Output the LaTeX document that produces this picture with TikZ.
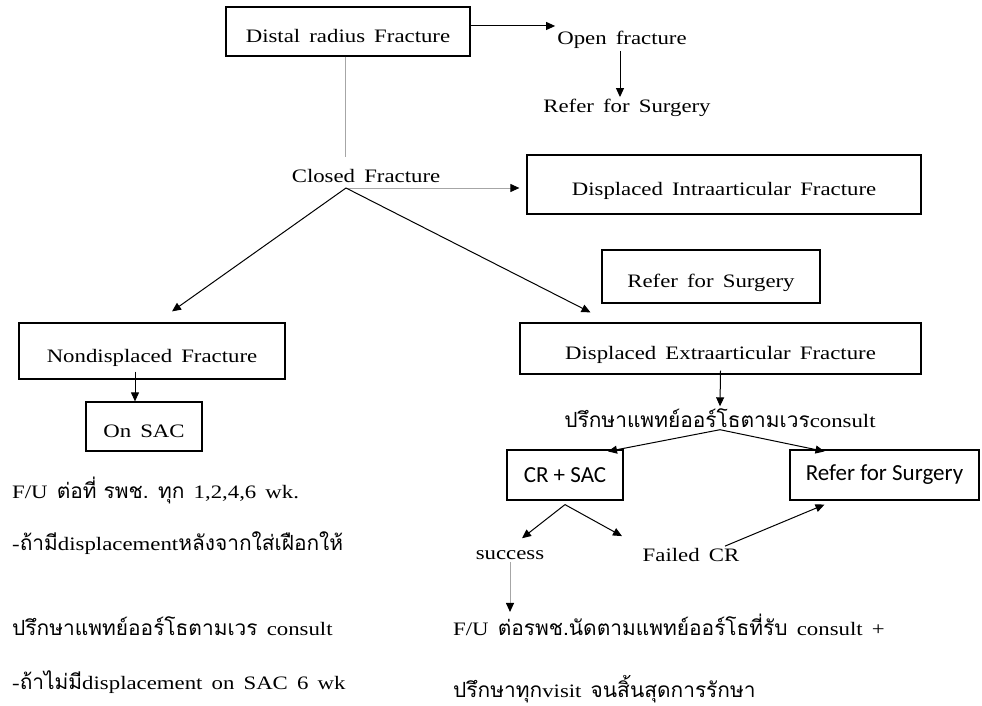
\documentclass[tikz,border=0pt]{standalone}
\usepackage{fontspec}
\setmainfont{Liberation Serif}[FakeStretch=1.2,WordSpace=1.6]
\newfontfamily\thaifont[Script=Thai,Scale=1.1]{Loma}
\newfontfamily\calib{Carlito}
\usetikzlibrary{arrows.meta}

\tikzset{
  box/.style={draw, line width=1.2pt, inner sep=0pt, text height=22pt, text depth=0pt},
  sbox/.style={draw, line width=1.2pt, inner sep=0pt, font=\calib\fontsize{23}{27}\selectfont},
  txt/.style={inner sep=2pt},
  arr/.style={line width=1pt, -{Triangle[length=9pt,width=8pt]}},
  garr/.style={line width=1pt, gray!70, -{Triangle[length=9pt,width=8pt,color=black]}},
  gline/.style={line width=1pt, gray!70}
}

\begin{document}
\begin{tikzpicture}[x=1pt,y=-1pt,every node/.style={font=\fontsize{19}{23}\selectfont}]
      \useasboundingbox (0,0) rectangle (982,706);
      \node[box, minimum width=244pt, minimum height=49pt] (dist) at (348,31.5) {Distal radius Fracture};
      \node[txt] (open) at (622,40) {Open fracture};
      \node[txt] (refera) at (627,108) {Refer for Surgery};
      \node[txt] (closed) at (366,176) {Closed Fracture};
      \coordinate (apex) at (346,188);
      \node[box, minimum width=394pt, minimum height=59pt] (intra) at (724,184.5) {Displaced Intraarticular Fracture};
      \node[box, minimum width=218pt, minimum height=53pt] (referb) at (711,276.5) {Refer for Surgery};
      \node[box, minimum width=266pt, minimum height=56pt] (nondisp) at (152,351) {Nondisplaced Fracture};
      \node[box, minimum width=116pt, minimum height=49pt] (onsac) at (144,426.5) {On SAC};
      \node[box, minimum width=401pt, minimum height=51pt] (extra) at (720.5,348.5) {Displaced Extraarticular Fracture};
      \node[txt] (consult) at (720,418) {{\thaifont ปรึกษาแพทย์ออร์โธตามเวร}consult};
      \node[sbox, minimum width=116pt, minimum height=50pt] (crsac) at (565,475) {CR + SAC};
      \node[sbox, minimum width=189pt, minimum height=50pt] (referc) at (884.5,475) {Refer for Surgery};
      \node[txt] (success) at (510,555) {success};
      \node[txt] (failed) at (691,555) {Failed CR};
      \node[txt, anchor=west] (fua) at (10,490) {F/U {\thaifont ต่อที่ รพช. ทุก} 1,2,4,6 wk.};
      \node[txt, anchor=west] (fub) at (10,543) {-{\thaifont ถ้ามี}displacement{\thaifont หลังจากใส่เฝือกให้}};
      \node[txt, anchor=west] (fuc) at (10,626) {{\thaifont ปรึกษาแพทย์ออร์โธตามเวร} consult};
      \node[txt, anchor=west] (fud) at (10,682) {-{\thaifont ถ้าไม่มี}displacement on SAC 6 wk};
      \node[txt, anchor=west] (fue) at (451,625) {F/U {\thaifont ต่อรพช.นัดตามแพทย์ออร์โธที่รับ} consult +};
      \node[txt, anchor=west] (fuf) at (451,689) {{\thaifont ปรึกษาทุก}visit {\thaifont จนสิ้นสุดการรักษา}};

      \draw[arr] ([yshift=5.5pt]dist.east) -- ([yshift=5.5pt]dist.east -| open.west);
      \draw[arr] ([xshift=-2pt]open.south) -- ([xshift=-2pt]open.south |- refera.north);
      \draw[gline] ([xshift=-3pt]dist.south) -- ([xshift=-3pt,yshift=10pt]dist.south |- closed.north);
      \draw[garr] (apex) -- ([xshift=-7pt]apex -| intra.west);
      \draw[arr] (apex) -- ([xshift=20pt,yshift=11pt]nondisp.north);
      \draw[arr] (apex) -- ([xshift=-130pt,yshift=10pt]extra.north);
      \draw[arr] ([xshift=-17pt,yshift=8pt]nondisp.south) -- ([xshift=-9pt]onsac.north);
      \draw[arr] ([yshift=4pt]extra.south) -- (consult.north);
      \draw[arr] (consult.south) -- ([xshift=43pt,yshift=-2pt]crsac.north);
      \draw[arr] (consult.south) -- ([xshift=-60pt,yshift=-2pt]referc.north);
      \draw[arr] ([yshift=-4pt]crsac.south) -- ([xshift=12pt,yshift=10pt]success.north);
      \draw[arr] ([yshift=-4pt]crsac.south) -- ([xshift=-69pt,yshift=10pt]failed.north);
      \draw[arr] ([xshift=34pt]failed.north) -- ([xshift=-60pt,yshift=-4pt]referc.south);
      \draw[garr] (success.south) -- (success.south |- fue.north);
\end{tikzpicture}
\end{document}
